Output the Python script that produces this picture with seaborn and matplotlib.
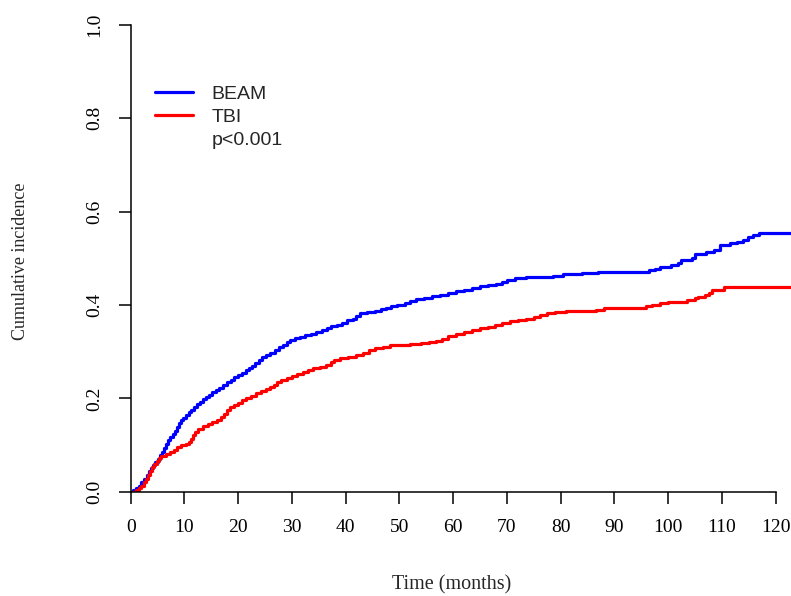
import numpy as np
import pandas as pd
import matplotlib
matplotlib.use("Agg")
import matplotlib.pyplot as plt
from matplotlib.lines import Line2D
import seaborn as sns

# Cumulative incidence step curves (months, incidence)
beam_time = [0, 0.5, 1.0, 1.5, 2.0, 2.5, 3.0, 3.4, 3.8, 4.2, 4.6, 5.0, 5.4, 5.8, 6.2,
             6.6, 7.0, 7.4, 7.8, 8.2, 8.6, 9.0, 9.4, 9.8, 10.3, 10.8, 11.3, 11.8, 12.3,
             12.8, 13.4, 14.0, 14.6, 15.2, 15.8, 16.5, 17.2, 17.9, 18.6, 19.3, 20.0,
             20.7, 21.4, 22.0, 22.6, 23.2, 23.8, 24.4, 25.2, 26.0, 26.8, 27.6, 28.4,
             29.0, 29.7, 30.5, 31.5, 32.5, 33.5, 34.5, 35.5, 36.5, 37.3, 38.3, 39.3,
             40.3, 41.3, 42.0, 42.6, 44.0, 45.5, 46.5, 47.5, 48.5, 49.5, 51.0, 52.0,
             53.0, 54.5, 56.0, 57.5, 59.0, 60.5, 62.0, 63.5, 65.0, 66.5, 68.0, 69.0,
             70.0, 71.5, 73.5, 76.0, 78.5, 80.5, 84.0, 87.0, 96.5, 97.5, 98.5, 100.5,
             101.8, 102.3, 104.5, 105.0, 107.0, 108.5, 109.7, 111.5, 112.8, 114.0,
             114.8, 115.8, 116.8, 123.0]
beam_inc = [0, 0.003, 0.008, 0.013, 0.020, 0.027, 0.036, 0.044, 0.051, 0.058, 0.064,
            0.071, 0.079, 0.086, 0.094, 0.102, 0.110, 0.117, 0.124, 0.131, 0.139,
            0.147, 0.153, 0.158, 0.164, 0.170, 0.176, 0.182, 0.188, 0.193, 0.198,
            0.203, 0.208, 0.213, 0.217, 0.222, 0.228, 0.234, 0.240, 0.245, 0.250,
            0.255, 0.260, 0.264, 0.270, 0.276, 0.282, 0.288, 0.293, 0.298, 0.303,
            0.309, 0.315, 0.320, 0.326, 0.330, 0.332, 0.335, 0.338, 0.342, 0.346,
            0.350, 0.354, 0.358, 0.362, 0.367, 0.371, 0.376, 0.383, 0.385, 0.388,
            0.391, 0.394, 0.398, 0.401, 0.404, 0.408, 0.412, 0.415, 0.419, 0.422,
            0.425, 0.429, 0.432, 0.436, 0.440, 0.443, 0.446, 0.450, 0.453, 0.457,
            0.459, 0.461, 0.463, 0.466, 0.468, 0.471, 0.474, 0.478, 0.482, 0.486,
            0.490, 0.496, 0.500, 0.510, 0.513, 0.518, 0.528, 0.532, 0.536, 0.540,
            0.545, 0.550, 0.555, 0.555]

tbi_time = [0, 1.0, 1.5, 2.0, 2.4, 2.8, 3.2, 3.6, 4.0, 4.4, 4.8, 5.2, 5.7, 6.5, 7.3,
            8.0, 8.7, 9.4, 10.2, 10.8, 11.2, 11.6, 12.0, 12.6, 13.4, 14.3, 15.2, 16.0,
            16.8, 17.4, 17.9, 18.5, 19.3, 20.0, 20.7, 21.5, 22.4, 23.3, 24.2, 25.1,
            26.0, 26.7, 27.3, 28.0, 29.0, 30.0, 31.0, 32.0, 33.0, 34.0, 35.2, 36.4,
            37.2, 37.9, 39.0, 40.5, 42.0, 43.3, 44.3, 45.5, 47.0, 48.3, 50.0, 52.0,
            54.0, 55.5, 56.8, 58.0, 59.0, 60.5, 62.0, 63.5, 65.0, 66.5, 67.8, 69.0,
            70.5, 72.0, 73.5, 75.0, 76.2, 77.5, 79.0, 81.0, 84.0, 86.5, 88.0, 94.0,
            95.8, 97.0, 98.5, 100.0, 103.5, 105.0, 105.6, 106.8, 107.6, 108.2, 110.3,
            123.0]
tbi_inc = [0, 0.003, 0.008, 0.013, 0.020, 0.028, 0.036, 0.044, 0.052, 0.059, 0.066,
           0.072, 0.077, 0.081, 0.086, 0.090, 0.095, 0.099, 0.103, 0.107, 0.113,
           0.121, 0.128, 0.135, 0.140, 0.145, 0.149, 0.153, 0.159, 0.166, 0.174,
           0.181, 0.185, 0.190, 0.196, 0.201, 0.206, 0.211, 0.215, 0.219, 0.224,
           0.229, 0.236, 0.240, 0.244, 0.248, 0.252, 0.256, 0.261, 0.265, 0.268,
           0.272, 0.277, 0.283, 0.286, 0.289, 0.293, 0.298, 0.303, 0.307, 0.309,
           0.314, 0.315, 0.317, 0.318, 0.320, 0.323, 0.328, 0.334, 0.338, 0.343,
           0.346, 0.350, 0.353, 0.358, 0.362, 0.365, 0.368, 0.371, 0.375, 0.379,
           0.383, 0.385, 0.387, 0.388, 0.390, 0.393, 0.394, 0.397, 0.400, 0.404,
           0.407, 0.410, 0.414, 0.418, 0.422, 0.426, 0.433, 0.439, 0.439]

groups = ["BEAM", "TBI"]
colors = {"BEAM": "#0000FF", "TBI": "#FF0000"}
p_text = "p<0.001"

x_ticks = list(range(0, 121, 10))
y_ticks = [0.0, 0.2, 0.4, 0.6, 0.8, 1.0]

df = pd.concat([
    pd.DataFrame({"time": beam_time, "inc": beam_inc, "group": "BEAM"}),
    pd.DataFrame({"time": tbi_time, "inc": tbi_inc, "group": "TBI"}),
], ignore_index=True)

sns.set_style("ticks")
plt.rcParams["font.family"] = ["Liberation Serif", "DejaVu Serif"]

W, H = 791, 596
fig = plt.figure(figsize=(W / 100, H / 100), dpi=100)
left = 130.7 / W
bottom = (H - 491.7) / H
top = (H - 25) / H
ax = fig.add_axes([left, bottom, 1 - left, top - bottom])

sns.lineplot(data=df, x="time", y="inc", hue="group", hue_order=groups,
             palette=colors, estimator=None, sort=False, drawstyle="steps-post",
             linewidth=2.3, legend=False, ax=ax)

ax.set_xlim(0, (W - 130.7) / 5.375)
ax.set_ylim(0, 1.0)
ax.set_xticks(x_ticks)
ax.set_xticklabels([str(v) for v in x_ticks])
ax.set_yticks(y_ticks)
ax.set_yticklabels([f"{v:.1f}" for v in y_ticks], rotation=90, va="center")

for s in ["top", "right"]:
    ax.spines[s].set_visible(False)
for s in ["left", "bottom"]:
    ax.spines[s].set_linewidth(1.1)
    ax.spines[s].set_color("black")
ax.spines["left"].set_bounds(0, 1.0)
ax.spines["bottom"].set_bounds(0, 120)

ax.tick_params(axis="both", direction="out", length=8.5, width=1.1,
               colors="black", labelsize=14)
ax.tick_params(axis="x", pad=11)
ax.tick_params(axis="y", pad=11)

ax.set_xlabel("")
ax.set_ylabel("")
fig.text(452 / W, 1 - 585 / H, "Time (months)", fontsize=14.5,
         ha="center", va="center")
fig.text(21 / W, 1 - 261.7 / H, "Cumulative incidence", fontsize=13,
         rotation=90, ha="center", va="center")

handles = [Line2D([], [], color=colors[g], lw=2.3) for g in groups]
handles.append(Line2D([], [], color="none", lw=0))
labels = groups + [p_text]
leg = fig.legend(handles, labels, loc="upper left",
                 bbox_to_anchor=(155 / W, 1 - 85 / H), frameon=False,
                 prop={"family": "Liberation Sans", "size": 14},
                 handlelength=1.96, handletextpad=0.96, labelspacing=0.28,
                 borderpad=0, borderaxespad=0)

ax.set_facecolor("white")
fig.patch.set_facecolor("white")
fig.savefig("out.png", dpi=100)
